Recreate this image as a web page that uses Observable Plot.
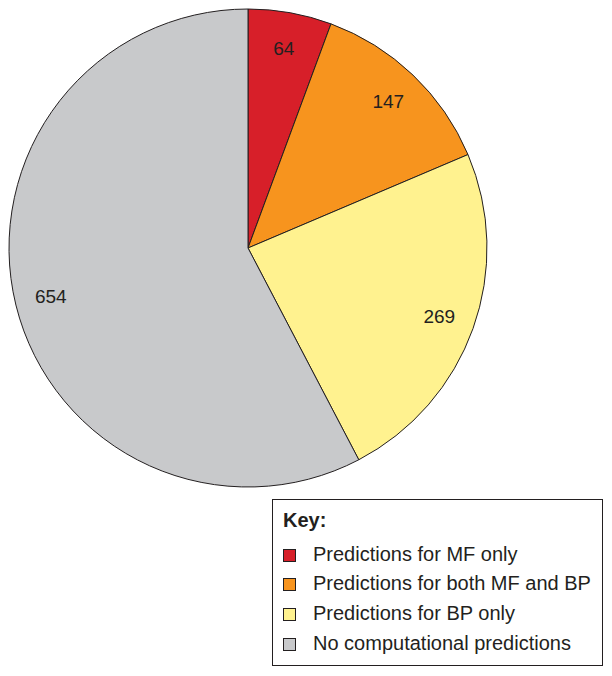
<!DOCTYPE html>
<html>
<head>
<meta charset="utf-8">
<script src="https://cdn.jsdelivr.net/npm/d3@7"></script>
<script src="https://cdn.jsdelivr.net/npm/@observablehq/plot@0.6"></script>
<style>
  body { margin: 0; background: #fff; font-family: Arial, "Liberation Sans", Helvetica, sans-serif; }
  #chart { position: absolute; left: 0; top: 0; }
  #legend { position: absolute; left: 272px; top: 499px; width: 331px; height: 167px; box-sizing: border-box; border: 1px solid #231f20; color: #231f20; }
  #legend .key { position: absolute; left: 10px; top: 10px; font-size: 20px; line-height: 20px; font-weight: bold; }
  #legend .sw { position: absolute; left: 10px; width: 13px; height: 13px; box-sizing: border-box; border: 1px solid #231f20; }
  #legend .lab { position: absolute; left: 40px; font-size: 20px; line-height: 20px; white-space: nowrap; }
</style>
</head>
<body>
<div id="chart"></div>
<div id="legend"></div>
<script>
const categories = ["Predictions for MF only", "Predictions for both MF and BP", "Predictions for BP only", "No computational predictions"];
const values = [64, 147, 269, 654];
const colors = ["#d71f29", "#f7941e", "#fff28f", "#c8c9cb"];

const data = categories.map((c, i) => ({category: c, value: values[i], color: colors[i]}));

function pieMark(index, scales) {
  const cx = scales.x(0), cy = scales.y(0);
  const r = scales.x(1) - scales.x(0);
  const arcs = d3.pie().sort(null).value(d => d.value)(data);
  const arc = d3.arc().innerRadius(0).outerRadius(r);
  const labelArc = d3.arc().innerRadius(r * 0.85).outerRadius(r * 0.85);
  const g = d3.create("svg:g").attr("transform", `translate(${cx},${cy})`);
  g.selectAll("path").data(arcs).join("path")
    .attr("d", arc)
    .attr("fill", d => d.data.color)
    .attr("stroke", "#231f20")
    .attr("stroke-width", 1);
  g.selectAll("text").data(arcs).join("text")
    .attr("transform", d => `translate(${labelArc.centroid(d)})`)
    .attr("text-anchor", "middle")
    .attr("dy", "0.35em")
    .attr("font-size", 19)
    .attr("font-family", "Arial, 'Liberation Sans', Helvetica, sans-serif")
    .attr("fill", "#231f20")
    .text(d => d.data.value);
  return g.node();
}

const plot = Plot.plot({
  width: 612,
  height: 495,
  marginLeft: 9,
  marginRight: 125,
  marginTop: 9,
  marginBottom: 8,
  x: {domain: [-1, 1], axis: null},
  y: {domain: [-1, 1], axis: null},
  style: {background: "transparent"},
  marks: [pieMark]
});
document.getElementById("chart").appendChild(plot);

const legend = document.getElementById("legend");
const key = document.createElement("div");
key.className = "key";
key.textContent = "Key:";
legend.appendChild(key);
const swTops = [49, 78, 108, 138];
const labTops = [44, 73, 103, 133];
categories.forEach((c, i) => {
  const sw = document.createElement("div");
  sw.className = "sw";
  sw.style.top = swTops[i] + "px";
  sw.style.background = colors[i];
  legend.appendChild(sw);
  const lab = document.createElement("div");
  lab.className = "lab";
  lab.style.top = labTops[i] + "px";
  lab.textContent = c;
  legend.appendChild(lab);
});
</script>
</body>
</html>
